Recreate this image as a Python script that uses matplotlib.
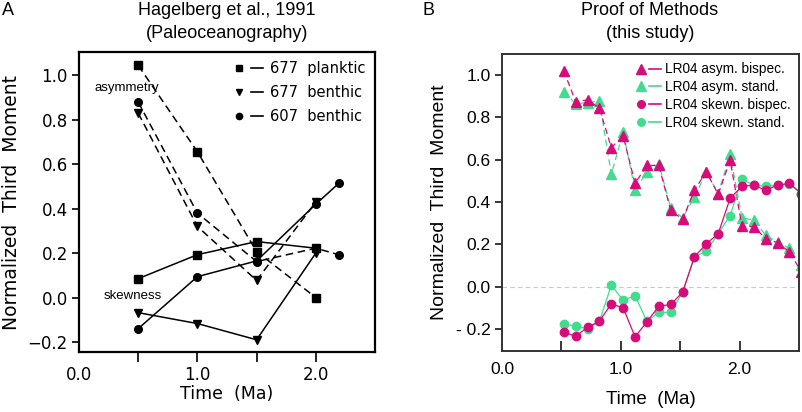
import numpy as np
import matplotlib
matplotlib.use("Agg")
import matplotlib.pyplot as plt
from matplotlib.lines import Line2D
from matplotlib.legend_handler import HandlerTuple

# ---- Panel A: Hagelberg et al., 1991 ----
a_time = [0.5, 1.0, 1.5, 2.0]
a_time_607 = [0.5, 1.0, 1.5, 2.0, 2.2]
planktic_677_asym = [1.045, 0.656, 0.207, 0.0]
planktic_677_skew = [0.085, 0.193, 0.252, 0.222]
benthic_677_asym = [0.83, 0.32, 0.077, 0.43]
benthic_677_skew = [-0.068, -0.117, -0.19, 0.20]
benthic_607_asym = [0.88, 0.38, 0.162, 0.222, 0.192]
benthic_607_skew = [-0.14, 0.094, 0.165, 0.42, 0.517]
a_labels = ["677  planktic", "677  benthic", "607  benthic"]

# ---- Panel B: Proof of methods ----
b_time = [0.52, 0.62, 0.72, 0.82, 0.92, 1.02, 1.12, 1.22, 1.32, 1.42, 1.52,
          1.62, 1.72, 1.82, 1.92, 2.02, 2.12, 2.22, 2.32, 2.42, 2.52]
asym_bispec = [1.02, 0.875, 0.883, 0.844, 0.657, 0.712, 0.488, 0.573, 0.573, 0.36, 0.318,
               0.456, 0.543, 0.436, 0.597, 0.286, 0.283, 0.226, 0.207, 0.163, 0.07]
asym_stand = [0.922, 0.865, 0.87, 0.878, 0.531, 0.731, 0.455, 0.542, 0.58, 0.373, 0.325,
              0.423, 0.54, 0.44, 0.625, 0.325, 0.314, 0.242, 0.21, 0.18, 0.10]
skew_bispec = [-0.216, -0.235, -0.193, -0.164, -0.082, -0.101, -0.238, -0.167, -0.093, -0.085, -0.027,
               0.141, 0.202, 0.25, 0.417, 0.475, 0.479, 0.455, 0.48, 0.488, 0.44]
skew_stand = [-0.177, -0.188, -0.2, -0.165, 0.006, -0.065, -0.043, -0.165, -0.122, -0.122, -0.027,
              0.14, 0.167, 0.25, 0.336, 0.507, 0.48, 0.475, 0.48, 0.485, 0.44]
b_labels = ["LR04 asym. bispec.", "LR04 asym. stand.", "LR04 skewn. bispec.", "LR04 skewn. stand."]

x_ticks = [0.0, 0.5, 1.0, 1.5, 2.0]
x_tick_labels = ["0.0", "", "1.0", "", "2.0"]
y_ticks = [-0.2, 0.0, 0.2, 0.4, 0.6, 0.8, 1.0]
a_ytick_labels = ["\u22120.2", "0.0", "0.2", "0.4", "0.6", "0.8", "1.0"]
b_ytick_labels = ["- 0.2", "0.0", "0.2", "0.4", "0.6", "0.8", "1.0"]

MAG = "#D90A7A"
GRN = "#42DC8E"
SANS = "Liberation Sans"
GEN = "DejaVu Sans"

fig = plt.figure(figsize=(8.02, 4.12), dpi=100)
axA = fig.add_axes([79 / 802, 60 / 412, 296 / 802, 300 / 412])
axB = fig.add_axes([502 / 802, 61 / 412, 297 / 802, 297 / 412])

# ----- panel A -----
dash = (0, (5, 3))
kw = dict(color="black", lw=1.1, ms=5.5)
axA.plot(a_time, planktic_677_asym, marker="s", ls=dash, **kw)
axA.plot(a_time, planktic_677_skew, marker="s", ls="-", **kw)
axA.plot(a_time, benthic_677_asym, marker="v", ls=dash, **kw)
axA.plot(a_time, benthic_677_skew, marker="v", ls="-", **kw)
axA.plot(a_time_607, benthic_607_asym, marker="o", ls=dash, **kw)
axA.plot(a_time_607, benthic_607_skew, marker="o", ls="-", **kw)

axA.set_xlim(0, 2.5)
axA.set_ylim(-0.245, 1.105)
axA.set_xticks(x_ticks)
axA.set_xticklabels(x_tick_labels, fontfamily=GEN, fontsize=12)
axA.set_yticks(y_ticks)
axA.set_yticklabels(a_ytick_labels, fontfamily=GEN, fontsize=12)
axA.tick_params(axis="x", direction="out", length=7, width=1.2, pad=3)
axA.tick_params(axis="y", direction="out", length=5, width=1.2, pad=3)
axA.xaxis.get_major_ticks()[0].tick1line.set_visible(False)
for s in axA.spines.values():
    s.set_linewidth(1.6)
axA.set_xlabel("Time  (Ma)", fontfamily=GEN, fontsize=12.5, labelpad=1)
axA.set_ylabel("Normalized  Third  Moment", fontfamily=GEN, fontsize=13.5, labelpad=5)

axA.text(0.40, 0.944, "asymmetry", fontfamily=SANS, fontsize=9.5, ha="center", va="center")
axA.text(0.456, 0.005, "skewness", fontfamily=SANS, fontsize=9.5, ha="center", va="center")

hA = []
for m in ["s", "v", "o"]:
    hA.append((Line2D([], [], color="black", marker=m, ms=4.5, ls="none"),
               Line2D([], [], color="black", lw=1.2)))
axA.legend(hA, a_labels, handler_map={tuple: HandlerTuple(ndivide=None, pad=0.4)},
           loc="upper right", bbox_to_anchor=(1.0, 1.0), frameon=False,
           prop={"family": GEN, "size": 10.5}, handlelength=2.0, handletextpad=0.5,
           labelspacing=0.6, borderaxespad=0.25)

fig.text(227 / 802, 1 - 2 / 412, "Hagelberg et al., 1991\n(Paleoceanography)",
         fontfamily=SANS, fontsize=13, ha="center", va="top", linespacing=1.45)
fig.text(2 / 802, 1 - 2 / 412, "A", fontfamily=SANS, fontsize=13, ha="left", va="top")

# ----- panel B -----
axB.axhline(0, color="#c8c8c8", ls=(0, (4, 3)), lw=0.8, zorder=0)
axB.plot(b_time, asym_stand, color=GRN, marker="^", ms=7, ls=(0, (5, 3)), lw=0.9)
axB.plot(b_time, asym_bispec, color=MAG, marker="^", ms=7, ls=(0, (5, 3)), lw=0.9)
axB.plot(b_time, skew_stand, color=GRN, marker="o", ms=6, ls="-", lw=0.9)
axB.plot(b_time, skew_bispec, color=MAG, marker="o", ms=6, ls="-", lw=0.9)

axB.set_xlim(0, 2.5)
axB.set_ylim(-0.305, 1.10)
axB.set_xticks(x_ticks)
axB.set_xticklabels(x_tick_labels, fontfamily=SANS, fontsize=12.5)
axB.set_yticks(y_ticks)
axB.set_yticklabels(b_ytick_labels, fontfamily=SANS, fontsize=12.5)
axB.tick_params(axis="x", direction="in", length=7, width=1.1, pad=8)
axB.tick_params(axis="y", direction="out", length=5, width=1.1, pad=3)
axB.xaxis.get_major_ticks()[0].tick1line.set_visible(False)
for s in axB.spines.values():
    s.set_linewidth(1.4)
    s.set_color("#333333")
axB.set_xlabel("Time  (Ma)", fontfamily=SANS, fontsize=13.5, labelpad=10)
axB.set_ylabel("Normalized  Third  Moment", fontfamily=SANS, fontsize=14, labelpad=6)

hB = []
for c, m in [(MAG, "^"), (GRN, "^"), (MAG, "o"), (GRN, "o")]:
    hB.append((Line2D([], [], color=c, marker=m, ms=6.5 if m == "^" else 5.5, ls="none"),
               Line2D([], [], color=c, lw=1.2)))
axB.legend(hB, b_labels, handler_map={tuple: HandlerTuple(ndivide=None, pad=0.2)},
           loc="upper right", bbox_to_anchor=(1.0, 1.0), frameon=False,
           prop={"family": SANS, "size": 9.8}, handlelength=1.9, handletextpad=0.3,
           labelspacing=0.28, borderaxespad=0.22)

fig.text(650 / 802, 1 - 2 / 412, "Proof of Methods\n(this study)",
         fontfamily=SANS, fontsize=13, ha="center", va="top", linespacing=1.45)
fig.text(422 / 802, 1 - 2 / 412, "B", fontfamily=SANS, fontsize=13, ha="left", va="top")

fig.savefig("out.png", dpi=100)
